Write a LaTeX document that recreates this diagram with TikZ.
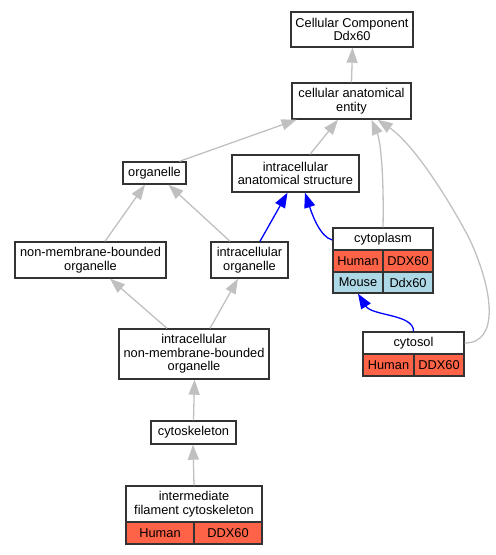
\documentclass[tikz,border=0pt]{standalone}
\usepackage{fontspec}
\setmainfont{Liberation Sans}
\usetikzlibrary{arrows.meta,calc}
\definecolor{bd}{HTML}{333333}
\definecolor{edgegray}{HTML}{C0C0C0}
\definecolor{tomatoc}{HTML}{FF6347}
\definecolor{lblue}{HTML}{ADD8E6}
\begin{document}
\begin{tikzpicture}[x=1pt,y=-1pt,
  box/.style={draw=bd,line width=1.4pt,fill=white,inner sep=0pt,align=center,
    font=\fontsize{12.8}{13.6}\selectfont},
  hum/.style={box,fill=tomatoc},
  mou/.style={box,fill=lblue},
  gedge/.style={draw=edgegray,line width=1.3pt,-{Triangle[length=15pt,width=11pt]}},
  bedge/.style={draw=blue,line width=1.3pt,-{Triangle[length=15pt,width=11pt]}}]
\useasboundingbox (0,0) rectangle (496,555);
% nodes
\node[box,minimum width=122pt,minimum height=35pt] (cc) at (352,29.5) {Cellular Component\\Ddx60};
\node[box,minimum width=119pt,minimum height=36pt] (ent) at (351.5,101) {cellular anatomical\\entity};
\node[box,minimum width=63pt,minimum height=22pt] (org) at (154.5,173) {organelle};
\node[box,minimum width=127pt,minimum height=37pt] (ias) at (295.5,173.5) {intracellular\\anatomical structure};
\node[box,minimum width=151pt,minimum height=36pt] (nmbo) at (90.5,260) {non-membrane-bounded\\organelle};
\node[box,minimum width=77pt,minimum height=36pt] (io) at (249.5,260) {intracellular\\organelle};
% cytoplasm table
\node[box,minimum width=100pt,minimum height=22pt] (cytT) at (383,239) {cytoplasm};
\node[hum,minimum width=50pt,minimum height=22pt] (cytH) at (358,261) {Human};
\node[hum,minimum width=50pt,minimum height=22pt] (cytHg) at (408,261) {DDX60};
\node[mou,minimum width=50pt,minimum height=21pt] (cytM) at (358,282.5) {Mouse};
\node[mou,minimum width=50pt,minimum height=21pt] (cytMg) at (408,282.5) {Ddx60};
% cytosol table
\node[box,minimum width=101pt,minimum height=22pt] (solT) at (413.5,343) {cytosol};
\node[hum,minimum width=51pt,minimum height=22pt] (solH) at (388.5,365) {Human};
\node[hum,minimum width=50pt,minimum height=22pt] (solHg) at (439,365) {DDX60};
\node[box,minimum width=150pt,minimum height=50pt] (inmbo) at (194,354) {intracellular\\non-membrane-bounded\\organelle};
\node[box,minimum width=85pt,minimum height=23pt] (csk) at (193.5,432.5) {cytoskeleton};
% ifc table
\node[box,minimum width=136pt,minimum height=36pt] (ifcT) at (194,504) {intermediate\\filament cytoskeleton};
\node[hum,minimum width=68pt,minimum height=22pt] (ifcH) at (160,533) {Human};
\node[hum,minimum width=68pt,minimum height=22pt] (ifcHg) at (228,533) {DDX60};
% edges
\draw[gedge] (ent.north) -- ([xshift=0.5pt]cc.south);
\draw[gedge] ([xshift=25pt]org.north) -- ([xshift=-55pt]ent.south);
\draw[gedge] ([xshift=14.5pt]ias.north) -- ([xshift=-13.5pt]ent.south);
\draw[gedge] (cytT.north) .. controls (384,180) and (381,142) .. ([xshift=20pt]ent.south);
\draw[gedge] (solT.east) .. controls (500,343) and (493,290) .. (470,240)
   .. controls (452,205) and (415,145) .. ([xshift=26pt]ent.south);
\draw[gedge] ([xshift=14.5pt]nmbo.north) -- ([xshift=-9.5pt]org.south);
\draw[gedge] ([xshift=-19.5pt]io.north) -- ([xshift=14pt]org.south);
\draw[bedge] ([xshift=10.5pt]io.north) -- ([xshift=-8pt]ias.south);
\draw[bedge] ([yshift=-1pt]cytT.west) .. controls (320,237) and (312,214) .. ([xshift=9.5pt]ias.south);
\draw[bedge] (solT.north) .. controls (414,314) and (372,316) .. (cytM.south);
\draw[gedge] ([xshift=-27pt]inmbo.north) -- ([xshift=19.5pt]nmbo.south);
\draw[gedge] ([xshift=16pt]inmbo.north) -- ([xshift=-11.5pt]io.south);
\draw[gedge] (csk.north) -- ([xshift=0.5pt]inmbo.south);
\draw[gedge] (ifcT.north) -- ([xshift=-0.5pt]csk.south);
\end{tikzpicture}
\end{document}
